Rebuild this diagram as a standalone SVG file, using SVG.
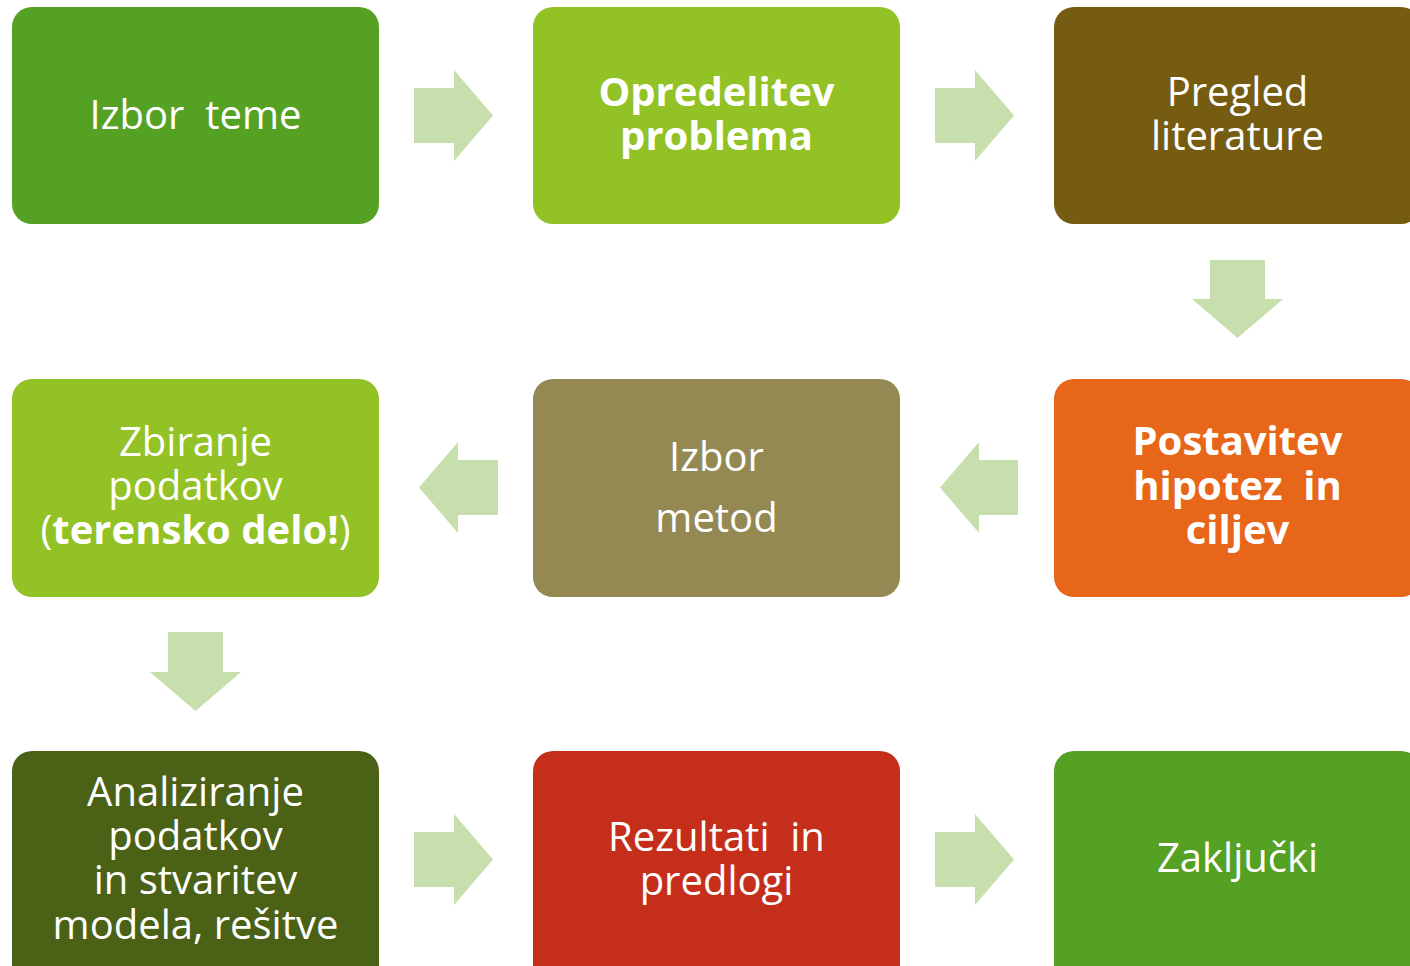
<svg xmlns="http://www.w3.org/2000/svg" width="1410" height="966" viewBox="0 0 1410 966">
<style>
.box{stroke:none}
.t{font-family:"Open Sans","Noto Sans","DejaVu Sans",sans-serif;font-size:40px;fill:#ffffff;text-anchor:middle;white-space:pre}
.b{font-weight:bold}
.arr{fill:#C7DEAD}
</style>
<rect width="1410" height="966" fill="#ffffff"/>
<g id="connectors">
<polygon class="arr" points="414,88 454,88 454,70 493,115.5 454,161 454,143 414,143"/>
<polygon class="arr" points="935,88 975,88 975,70 1014,115.5 975,161 975,143 935,143"/>
<polygon class="arr" points="1210,260 1265,260 1265,299 1283,299 1237.5,338 1192,299 1210,299"/>
<polygon class="arr" points="1018,460 979,460 979,442 940,487.5 979,533 979,515 1018,515"/>
<polygon class="arr" points="498,460 458,460 458,442 419,487.5 458,533 458,515 498,515"/>
<polygon class="arr" points="168,632 223,632 223,672 241,672 195.5,711 150,672 168,672"/>
<polygon class="arr" points="414,832 454,832 454,814 493,859.5 454,905 454,887 414,887"/>
<polygon class="arr" points="935,832 975,832 975,814 1014,859.5 975,905 975,887 935,887"/>
</g>
<g id="n1"><rect class="box" x="12" y="7" width="367" height="217" rx="20" fill="#55A123"/>
<text class="t" x="195.5" y="129">Izbor  teme</text></g>
<g id="n2"><rect class="box" x="533" y="7" width="367" height="217" rx="20" fill="#93C227"/>
<text class="t b" x="716.5" y="106">Opredelitev</text><text class="t b" x="716.5" y="150">problema</text></g>
<g id="n3"><rect class="box" x="1054" y="7" width="367" height="217" rx="20" fill="#765C10"/>
<text class="t" x="1237.5" y="106">Pregled</text><text class="t" x="1237.5" y="150">literature</text></g>
<g id="n4"><rect class="box" x="1054" y="379" width="367" height="218" rx="20" fill="#E8661A"/>
<text class="t b" x="1237.5" y="455">Postavitev</text><text class="t b" x="1237.5" y="500">hipotez  in</text><text class="t b" x="1237.5" y="544">ciljev</text></g>
<g id="n5"><rect class="box" x="533" y="379" width="367" height="218" rx="20" fill="#948853"/>
<text class="t" x="716.5" y="471">Izbor</text><text class="t" x="716.5" y="532">metod</text></g>
<g id="n6"><rect class="box" x="12" y="379" width="367" height="218" rx="20" fill="#93C227"/>
<text class="t" x="195.5" y="456">Zbiranje</text><text class="t" x="195.5" y="500">podatkov</text><text class="t" x="195.5" y="544">(<tspan class="b">terensko delo!</tspan>)</text></g>
<g id="n7"><rect class="box" x="12" y="751" width="367" height="240" rx="20" fill="#4A6116"/>
<text class="t" x="195.5" y="806">Analiziranje</text><text class="t" x="195.5" y="850">podatkov</text><text class="t" x="195.5" y="894">in stvaritev</text><text class="t" x="195.5" y="939">modela, rešitve</text></g>
<g id="n8"><rect class="box" x="533" y="751" width="367" height="240" rx="20" fill="#C42E1A"/>
<text class="t" x="716.5" y="851">Rezultati  in</text><text class="t" x="716.5" y="895">predlogi</text></g>
<g id="n9"><rect class="box" x="1054" y="751" width="367" height="240" rx="20" fill="#55A123"/>
<text class="t" x="1237.5" y="872">Zaključki</text></g>
</svg>
